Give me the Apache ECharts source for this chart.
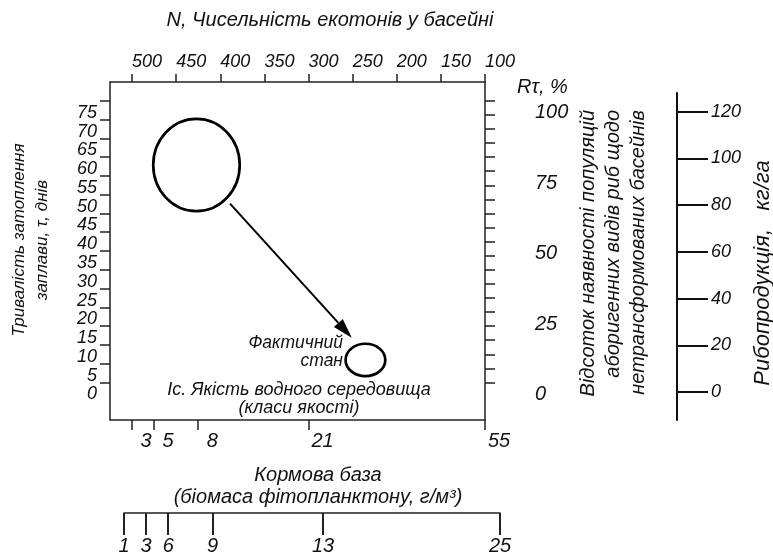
<!DOCTYPE html>
<html>
<head>
<meta charset="utf-8">
<script src="https://cdn.jsdelivr.net/npm/echarts@6/dist/echarts.min.js"></script>
<style>
  html, body { margin: 0; padding: 0; background: #fff; }
  #main { width: 773px; height: 559px; }
</style>
</head>
<body>
<div id="main"></div>
<script>
// шкали
const nTicks = [500, 450, 400, 350, 300, 250, 200, 150, 100];
const tauTicks = [0, 5, 10, 15, 20, 25, 30, 35, 40, 45, 50, 55, 60, 65, 70, 75];
const rtTicks = [0, 5, 10, 15, 20, 25, 30, 35, 40, 45, 50, 55, 60, 65, 70, 75, 80, 85, 90, 95, 100];
const rtLabels = [0, 25, 50, 75, 100];
const fishTicks = [0, 20, 40, 60, 80, 100, 120];
// межі класів якості в одиницях N
const classBoundsN = [525, 500, 475, 425, 300, 100];
const feedLabels = ['', '3', '5', '8', '21', '55'];
const biomassLabels = ['1', '3', '6', '9', '13', '25'];
// стани: [N ліва межа, N права межа, τ нижня, τ верхня]
const naturalState = [476, 378, 45.6, 70.2];
const actualState = [258, 213, 1.7, 10.3];
// стрілка: [N1, τ1, N2, τ2]
const shiftArrow = [389, 47.6, 251, 11.9];

const FONT = 'Liberation Sans';
const INK = '#111';
function lbl(size) {
  return { fontFamily: FONT, fontStyle: 'italic', fontSize: size, color: INK };
}
function txt(size) {
  return 'italic ' + size + 'px ' + FONT;
}
const axisLine = { show: true, onZero: false, lineStyle: { color: '#222', width: 1.5 } };

function classLabel(list) {
  return function (v) {
    const i = classBoundsN.indexOf(v);
    return i < 0 ? '' : list[i];
  };
}

function renderEllipse(params, api) {
  const a = api.coord([api.value(0), api.value(3)]);
  const b = api.coord([api.value(1), api.value(2)]);
  return {
    type: 'ellipse',
    shape: {
      cx: (a[0] + b[0]) / 2,
      cy: (a[1] + b[1]) / 2,
      rx: Math.abs(b[0] - a[0]) / 2,
      ry: Math.abs(b[1] - a[1]) / 2
    },
    style: { fill: 'none', stroke: '#000', lineWidth: 2.7 }
  };
}

function renderArrow(params, api) {
  const p1 = api.coord([api.value(0), api.value(1)]);
  const p2 = api.coord([api.value(2), api.value(3)]);
  const dx = p2[0] - p1[0], dy = p2[1] - p1[1];
  const len = Math.sqrt(dx * dx + dy * dy);
  const ux = dx / len, uy = dy / len;
  const headL = 20, headW = 6;
  const bx = p2[0] - ux * headL, by = p2[1] - uy * headL;
  return {
    type: 'group',
    children: [
      {
        type: 'line',
        shape: { x1: p1[0], y1: p1[1], x2: bx, y2: by },
        style: { stroke: '#000', lineWidth: 2 }
      },
      {
        type: 'polygon',
        shape: { points: [p2, [bx - uy * headW, by + ux * headW], [bx + uy * headW, by - ux * headW]] },
        style: { fill: '#000' }
      }
    ]
  };
}

const chart = echarts.init(document.getElementById('main'));
chart.setOption({
  backgroundColor: '#fff',
  animation: false,
  grid: [
    { left: 110, right: 288, top: 82, bottom: 139 },
    { left: 124, right: 273, top: 480, bottom: 46 },
    { left: 650, right: 96, top: 93, bottom: 139 }
  ],
  xAxis: [
    {
      gridIndex: 0, type: 'value', position: 'top', inverse: true, min: 100, max: 525,
      axisLine: axisLine, splitLine: { show: false },
      axisTick: { customValues: nTicks, length: 8, lineStyle: { color: '#222', width: 1.5 } },
      axisLabel: Object.assign({ customValues: nTicks, align: 'left', margin: 11 }, lbl(18))
    },
    {
      gridIndex: 0, type: 'value', position: 'bottom', inverse: true, min: 100, max: 525,
      axisLine: axisLine, splitLine: { show: false },
      axisTick: { customValues: classBoundsN.slice(1), length: 10, lineStyle: { color: '#222', width: 1.5 } },
      axisLabel: Object.assign({ customValues: classBoundsN.slice(1), margin: 11, padding: [0, 0, 0, 28],
        formatter: classLabel(feedLabels) }, lbl(20))
    },
    {
      gridIndex: 1, type: 'value', position: 'bottom', inverse: true, min: 100, max: 525,
      axisLine: axisLine, splitLine: { show: false },
      axisTick: { customValues: classBoundsN, length: 22, lineStyle: { color: '#222', width: 2 } },
      axisLabel: Object.assign({ customValues: classBoundsN, margin: 23,
        formatter: classLabel(biomassLabels) }, lbl(20))
    },
    { gridIndex: 2, type: 'value', show: false }
  ],
  yAxis: [
    {
      gridIndex: 0, type: 'value', position: 'left', min: -10, max: 80,
      axisLine: axisLine, splitLine: { show: false },
      axisTick: { customValues: tauTicks, length: 10, lineStyle: { color: '#222', width: 1.5 } },
      axisLabel: Object.assign({ customValues: tauTicks, margin: 13, verticalAlign: 'top', padding: [3, 0, 0, 0] }, lbl(18))
    },
    {
      gridIndex: 0, type: 'value', position: 'right', min: -40 / 3, max: 320 / 3,
      axisLine: axisLine, splitLine: { show: false },
      axisTick: { customValues: rtTicks, length: 10, lineStyle: { color: '#222', width: 1.5 } },
      axisLabel: Object.assign({ customValues: rtLabels, margin: 50, align: 'left', verticalAlign: 'top', padding: [2, 0, 0, 0] }, lbl(20))
    },
    { gridIndex: 1, type: 'value', show: false },
    {
      gridIndex: 2, type: 'value', position: 'right', min: -12, max: 128,
      axisLine: { show: true, onZero: false, lineStyle: { color: '#111', width: 2 } },
      splitLine: { show: false },
      axisTick: { customValues: fishTicks, length: 31, lineStyle: { color: '#111', width: 2 } },
      axisLabel: Object.assign({ customValues: fishTicks, margin: 34, align: 'left' }, lbl(18))
    }
  ],
  series: [
    {
      type: 'custom', xAxisIndex: 0, yAxisIndex: 0,
      renderItem: renderEllipse,
      data: [naturalState, actualState]
    },
    {
      type: 'custom', xAxisIndex: 0, yAxisIndex: 0,
      renderItem: renderArrow,
      data: [shiftArrow]
    }
  ],
  graphic: [
    { type: 'text', x: 330, y: 20,
      style: { text: 'N, Чисельність екотонів у басейні', align: 'center', verticalAlign: 'middle', font: txt(20), fill: INK } },
    { type: 'text', x: 31, y: 240, rotation: Math.PI / 2,
      style: { text: 'Тривалість затоплення\nзаплави, τ, днів', align: 'center', verticalAlign: 'middle', lineHeight: 23, font: txt(17), fill: INK } },
    { type: 'text', x: 517, y: 87,
      style: { text: 'Rτ, %', align: 'left', verticalAlign: 'middle', font: txt(20), fill: INK } },
    { type: 'text', x: 613, y: 110, rotation: Math.PI / 2,
      style: { text: 'Відсоток наявності популяцій\nаборигенних видів риб щодо\nнетрансформованих басейнів', align: 'right', verticalAlign: 'middle', lineHeight: 25, font: txt(20), fill: INK } },
    { type: 'text', x: 763, y: 273, rotation: Math.PI / 2,
      style: { text: 'Рибопродукція,   кг/га', align: 'center', verticalAlign: 'middle', font: txt(22), fill: INK } },
    { type: 'text', x: 318, y: 486,
      style: { text: 'Кормова база\n(біомаса фітопланктону, г/м³)', align: 'center', verticalAlign: 'middle', lineHeight: 22, font: txt(20), fill: INK } },
    { type: 'text', x: 343, y: 352,
      style: { text: 'Фактичний\nстан', align: 'right', verticalAlign: 'middle', lineHeight: 18, font: txt(17.5), fill: INK } },
    { type: 'text', x: 299, y: 399,
      style: { text: 'Іс. Якість водного середовища\n(класи якості)', align: 'center', verticalAlign: 'middle', lineHeight: 18, font: txt(18), fill: INK } }
  ]
});
</script>
</body>
</html>
